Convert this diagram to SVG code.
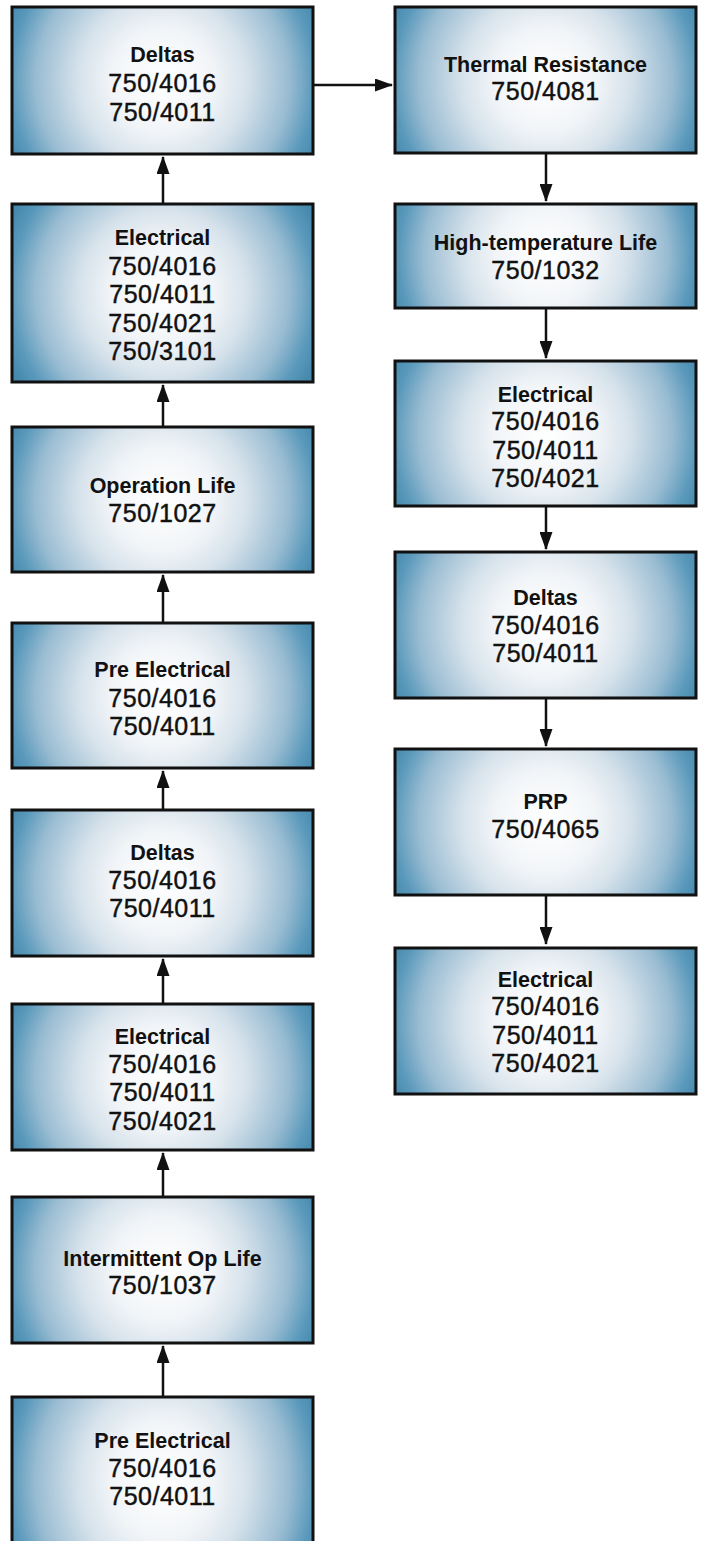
<svg xmlns="http://www.w3.org/2000/svg" width="701" height="1541" viewBox="0 0 701 1541">
<defs>
<radialGradient id="gStd" cx="0.5" cy="0.5" r="0.56" gradientTransform="translate(0.5,0.5) scale(1,2.06) translate(-0.5,-0.5)">
<stop offset="0" stop-color="#ffffff"/>
<stop offset="0.3" stop-color="#f2f5f8"/>
<stop offset="0.5" stop-color="#d6e2eb"/>
<stop offset="0.75" stop-color="#99bcd2"/>
<stop offset="0.9" stop-color="#5a99bb"/>
<stop offset="1" stop-color="#4589ad"/>
</radialGradient>
<radialGradient id="gTall" href="#gStd" gradientTransform="translate(0.5,0.5) scale(1,1.69) translate(-0.5,-0.5)"/>
<radialGradient id="gShort" href="#gStd" r="0.54" gradientTransform="translate(0.5,0.5) scale(1,2.9) translate(-0.5,-0.5)"/>
<marker id="arr" markerUnits="userSpaceOnUse" markerWidth="18" markerHeight="13" refX="17" refY="6.5" orient="auto">
<path d="M0,0 L18,6.5 L0,13 Z" fill="#111"/>
</marker>
</defs>
<style>
.box{stroke:#111;stroke-width:3;}
.std{fill:url(#gStd);}
.tall{fill:url(#gTall);}
.short{fill:url(#gShort);}
.t{font-family:"Liberation Sans",Arial,sans-serif;font-weight:bold;font-size:21.5px;fill:#111;text-anchor:middle;}
.n{font-family:"Liberation Sans",Arial,sans-serif;font-size:25px;letter-spacing:0.5px;fill:#111;stroke:#111;stroke-width:0.45;text-anchor:middle;}
.c{stroke:#111;stroke-width:2.5;fill:none;marker-end:url(#arr);}
</style>

<g id="connectors">
<line class="c" x1="313" y1="85" x2="392" y2="85"/>
<line class="c" x1="163" y1="204" x2="163" y2="157"/>
<line class="c" x1="163" y1="427" x2="163" y2="385"/>
<line class="c" x1="163" y1="623" x2="163" y2="575"/>
<line class="c" x1="163" y1="810" x2="163" y2="771"/>
<line class="c" x1="163" y1="1004" x2="163" y2="959"/>
<line class="c" x1="163" y1="1197" x2="163" y2="1153"/>
<line class="c" x1="163" y1="1397" x2="163" y2="1346"/>
<line class="c" x1="546" y1="153" x2="546" y2="201"/>
<line class="c" x1="546" y1="308" x2="546" y2="358"/>
<line class="c" x1="546" y1="506" x2="546" y2="549"/>
<line class="c" x1="546" y1="698" x2="546" y2="746"/>
<line class="c" x1="546" y1="895" x2="546" y2="944"/>
</g>

<g id="L1">
<rect class="box std" x="12" y="7" width="301" height="147"/>
<text class="t" x="162.5" y="62">Deltas</text>
<text class="n" x="162.5" y="92">750/4016</text>
<text class="n" x="162.5" y="121">750/4011</text>
</g>
<g id="L2">
<rect class="box tall" x="12" y="204" width="301" height="178"/>
<text class="t" x="162.5" y="245">Electrical</text>
<text class="n" x="162.5" y="274.5">750/4016</text>
<text class="n" x="162.5" y="303">750/4011</text>
<text class="n" x="162.5" y="331.5">750/4021</text>
<text class="n" x="162.5" y="360">750/3101</text>
</g>
<g id="L3">
<rect class="box std" x="12" y="427" width="301" height="145"/>
<text class="t" x="162.5" y="493">Operation Life</text>
<text class="n" x="162.5" y="522">750/1027</text>
</g>
<g id="L4">
<rect class="box std" x="12" y="623" width="301" height="145"/>
<text class="t" x="162.5" y="677">Pre Electrical</text>
<text class="n" x="162.5" y="707">750/4016</text>
<text class="n" x="162.5" y="735">750/4011</text>
</g>
<g id="L5">
<rect class="box std" x="12" y="810" width="301" height="146"/>
<text class="t" x="162.5" y="860">Deltas</text>
<text class="n" x="162.5" y="889">750/4016</text>
<text class="n" x="162.5" y="917">750/4011</text>
</g>
<g id="L6">
<rect class="box std" x="12" y="1004" width="301" height="146"/>
<text class="t" x="162.5" y="1044">Electrical</text>
<text class="n" x="162.5" y="1072.5">750/4016</text>
<text class="n" x="162.5" y="1101">750/4011</text>
<text class="n" x="162.5" y="1129.5">750/4021</text>
</g>
<g id="L7">
<rect class="box std" x="12" y="1197" width="301" height="146"/>
<text class="t" x="162.5" y="1266">Intermittent Op Life</text>
<text class="n" x="162.5" y="1294">750/1037</text>
</g>
<g id="L8">
<rect class="box std" x="12" y="1397" width="301" height="168"/>
<text class="t" x="162.5" y="1448">Pre Electrical</text>
<text class="n" x="162.5" y="1477">750/4016</text>
<text class="n" x="162.5" y="1505">750/4011</text>
</g>

<g id="R1">
<rect class="box std" x="395" y="7" width="301" height="146"/>
<text class="t" x="545.5" y="71.5">Thermal Resistance</text>
<text class="n" x="545.5" y="100">750/4081</text>
</g>
<g id="R2">
<rect class="box short" x="395" y="204" width="301" height="104"/>
<text class="t" x="545.5" y="250">High-temperature Life</text>
<text class="n" x="545.5" y="278.5">750/1032</text>
</g>
<g id="R3">
<rect class="box std" x="395" y="361" width="301" height="145"/>
<text class="t" x="545.5" y="401.5">Electrical</text>
<text class="n" x="545.5" y="430">750/4016</text>
<text class="n" x="545.5" y="458.5">750/4011</text>
<text class="n" x="545.5" y="487">750/4021</text>
</g>
<g id="R4">
<rect class="box std" x="395" y="552" width="301" height="146"/>
<text class="t" x="545.5" y="605">Deltas</text>
<text class="n" x="545.5" y="633.5">750/4016</text>
<text class="n" x="545.5" y="661.5">750/4011</text>
</g>
<g id="R5">
<rect class="box std" x="395" y="749" width="301" height="146"/>
<text class="t" x="545.5" y="809">PRP</text>
<text class="n" x="545.5" y="837.5">750/4065</text>
</g>
<g id="R6">
<rect class="box std" x="395" y="948" width="301" height="146"/>
<text class="t" x="545.5" y="986.5">Electrical</text>
<text class="n" x="545.5" y="1015">750/4016</text>
<text class="n" x="545.5" y="1043.5">750/4011</text>
<text class="n" x="545.5" y="1072">750/4021</text>
</g>
</svg>
